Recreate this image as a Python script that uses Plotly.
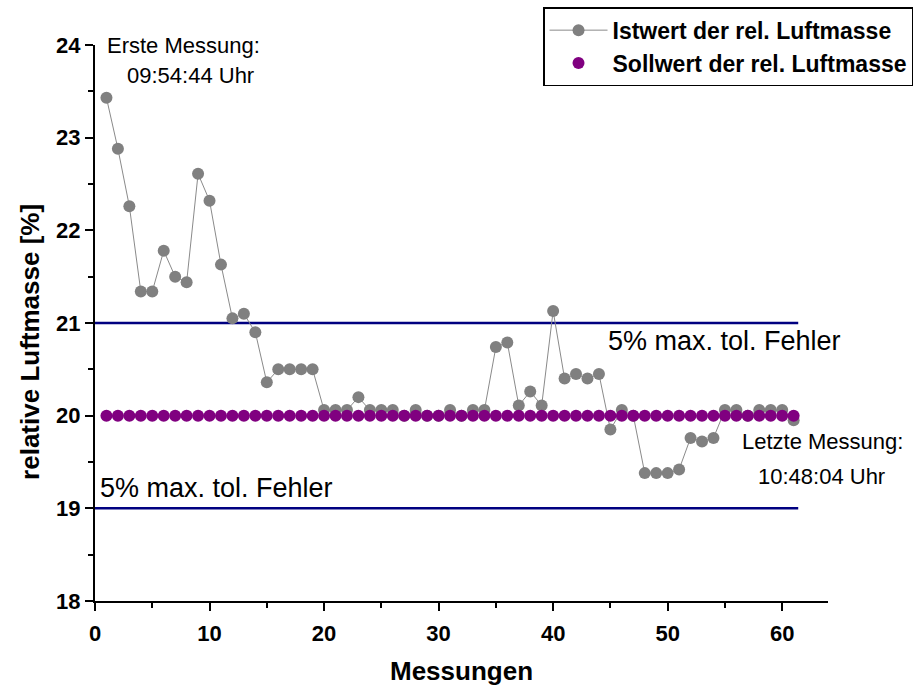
import plotly.graph_objects as go

# ---- data ----
messungen = list(range(1, 62))
istwert = [23.43, 22.88, 22.26, 21.34, 21.34, 21.78, 21.50, 21.44, 22.61, 22.32,
           21.63, 21.05, 21.10, 20.90, 20.36, 20.50, 20.50, 20.50, 20.50, 20.06,
           20.06, 20.06, 20.20, 20.06, 20.06, 20.06, 20.00, 20.06, 20.00, 20.00,
           20.06, 20.00, 20.06, 20.06, 20.74, 20.79, 20.11, 20.26, 20.11, 21.13,
           20.40, 20.45, 20.40, 20.45, 19.85, 20.06, 20.00, 19.38, 19.38, 19.38,
           19.42, 19.76, 19.72, 19.76, 20.06, 20.06, 20.00, 20.06, 20.06, 20.06,
           19.95]
sollwert = [20.0] * len(messungen)
tol_upper = 21.0
tol_lower = 19.0
x_ticks = [0, 10, 20, 30, 40, 50, 60]
y_ticks = [18, 19, 20, 21, 22, 23, 24]

FONT = "Liberation Sans, Arial, sans-serif"

fig = go.Figure()

fig.add_trace(go.Scatter(
    x=messungen, y=istwert, mode="lines+markers",
    name="Istwert der rel. Luftmasse",
    line=dict(color="#8a8a8a", width=1),
    marker=dict(color="#808080", size=12, line=dict(width=0)),
))
fig.add_trace(go.Scatter(
    x=messungen, y=sollwert, mode="markers",
    name="Sollwert der rel. Luftmasse",
    marker=dict(color="#800080", size=12, line=dict(width=0)),
))

for yv in (tol_upper, tol_lower):
    fig.add_shape(type="line", xref="x", yref="y", x0=0, x1=61.4, y0=yv, y1=yv,
                  line=dict(color="#000080", width=2.5), layer="below")

ann_font = dict(family=FONT, size=22, color="black")
big_font = dict(family=FONT, size=27, color="black")
annotations = [
    dict(x=7.7, y=24.0, text="Erste Messung:", font=ann_font),
    dict(x=8.3, y=23.67, text="09:54:44 Uhr", font=ann_font),
    dict(x=55.0, y=20.81, text="5% max. tol. Fehler", font=big_font),
    dict(x=10.65, y=19.22, text="5% max. tol. Fehler", font=big_font),
    dict(x=63.5, y=19.72, text="Letzte Messung:", font=ann_font),
    dict(x=63.4, y=19.34, text="10:48:04 Uhr", font=ann_font),
]
for a in annotations:
    fig.add_annotation(xref="x", yref="y", showarrow=False, xanchor="center",
                       yanchor="middle", **a)

# y-axis title placed as rotated annotation to match reference position
fig.add_annotation(xref="paper", yref="paper", x=-0.0887, y=0.466, showarrow=False,
                   textangle=-90, xanchor="center", yanchor="middle",
                   text="relative Luftmasse [%]",
                   font=dict(family=FONT, size=26, color="black", weight="bold"))

tickfont = dict(family=FONT, size=22, color="black", weight="bold")
fig.update_xaxes(
    range=[0, 64], tickvals=x_ticks, ticks="outside", ticklen=8, tickwidth=2,
    tickcolor="black", showline=True, linecolor="black", linewidth=2,
    showgrid=False, zeroline=False, tickfont=tickfont, ticklabelstandoff=4,
    minor=dict(dtick=5, tick0=0, ticks="outside", ticklen=5, tickwidth=2, tickcolor="black", showgrid=False),
    title=dict(text="Messungen", font=dict(family=FONT, size=26, color="black", weight="bold"), standoff=16),
)
fig.update_yaxes(
    range=[18, 24], tickvals=y_ticks, ticks="outside", ticklen=8, tickwidth=2,
    tickcolor="black", showline=True, linecolor="black", linewidth=2,
    showgrid=False, zeroline=False, tickfont=tickfont,
    minor=dict(dtick=0.5, tick0=18, ticks="outside", ticklen=5, tickwidth=2, tickcolor="black", showgrid=False),
)

fig.update_layout(
    width=914, height=686,
    margin=dict(l=95, r=86, t=45, b=85, autoexpand=False),
    plot_bgcolor="white", paper_bgcolor="white",
    showlegend=True,
    legend=dict(x=1.116, xanchor="right", y=1.068, yanchor="top",
                bgcolor="white", bordercolor="black", borderwidth=1.5,
                font=dict(family=FONT, size=23, color="black", weight="bold"),
                itemwidth=58, tracegroupgap=0),
)

fig.write_html("out.html")
